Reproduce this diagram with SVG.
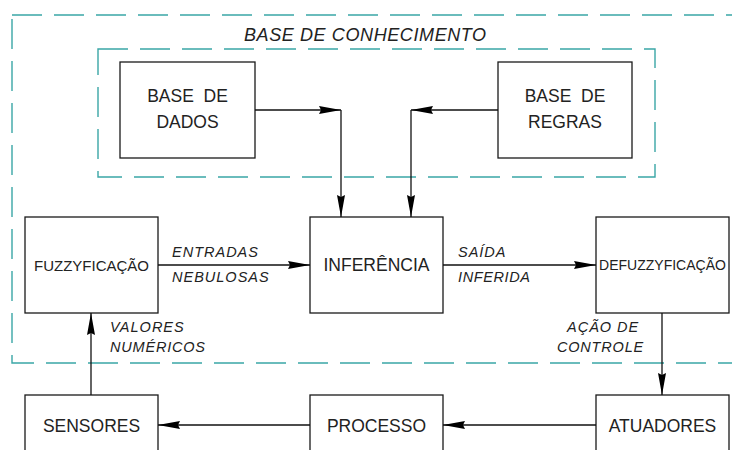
<svg xmlns="http://www.w3.org/2000/svg" width="732" height="450" viewBox="0 0 732 450">
<style>
.box{fill:#fff;stroke:#1a1a1a;stroke-width:1.3}
.dash{fill:none;stroke:#3aa6a6;stroke-width:1.4;stroke-dasharray:30 12}
.lbl{font-family:"Liberation Sans",Arial,sans-serif;font-size:17.5px;fill:#222;text-anchor:middle}
.it{font-family:"Liberation Sans",Arial,sans-serif;font-style:italic;font-size:14.5px;fill:#222;letter-spacing:1px}
.con{fill:none;stroke:#111;stroke-width:1.3;marker-end:url(#ah)}
</style>
<defs>
<marker id="ah" viewBox="0 0 22 9" refX="22" refY="4.5" markerWidth="22" markerHeight="9" markerUnits="userSpaceOnUse" orient="auto">
<path d="M0,0.5 L22,4.5 L0,8.5 L2,4.5 z" fill="#000"/>
</marker>
</defs>
<rect x="12" y="15" width="740" height="348" class="dash"/>
<rect x="98" y="49" width="557" height="128" class="dash"/>
<text x="244" y="41" font-family="Liberation Sans,Arial,sans-serif" font-style="italic" font-size="18" letter-spacing="0.6" fill="#222">BASE DE CONHECIMENTO</text>
<g id="base-dados">
<rect x="120" y="62" width="135" height="96" class="box"/>
<text x="187.5" y="102" class="lbl" style="white-space:pre">BASE  DE</text>
<text x="187.5" y="128" class="lbl">DADOS</text>
</g>
<g id="base-regras">
<rect x="498" y="62" width="134" height="96" class="box"/>
<text x="565" y="102" class="lbl" style="white-space:pre">BASE  DE</text>
<text x="565" y="128" class="lbl">REGRAS</text>
</g>
<g id="fuzzyficacao">
<rect x="25" y="217" width="133" height="96" class="box"/>
<text x="91.5" y="271" class="lbl" style="font-size:15px">FUZZYFICAÇÃO</text>
</g>
<g id="inferencia">
<rect x="310" y="217" width="133" height="96" class="box"/>
<text x="376.5" y="271" class="lbl">INFERÊNCIA</text>
</g>
<g id="defuzzyficacao">
<rect x="596" y="217" width="133" height="96" class="box"/>
<text x="662.5" y="270" class="lbl" style="font-size:14px">DEFUZZYFICAÇÃO</text>
</g>
<g id="sensores">
<rect x="25" y="395" width="133" height="96" class="box"/>
<text x="91.5" y="432" class="lbl">SENSORES</text>
</g>
<g id="processo">
<rect x="310" y="395" width="133" height="96" class="box"/>
<text x="376.5" y="432" class="lbl">PROCESSO</text>
</g>
<g id="atuadores">
<rect x="596" y="395" width="133" height="96" class="box"/>
<text x="662.5" y="432" class="lbl">ATUADORES</text>
</g>
<g id="connectors">
<path d="M255,110 H341" class="con"/>
<path d="M341,110 V217" class="con"/>
<path d="M498,110 H411" class="con"/>
<path d="M411,110 V217" class="con"/>
<path d="M158,265 H310" class="con"/>
<path d="M443,265 H596" class="con"/>
<path d="M662,313 V395" class="con"/>
<path d="M596,425 H443" class="con"/>
<path d="M310,425 H158" class="con"/>
<path d="M91,395 V313" class="con"/>
</g>
<g id="labels">
<text x="172" y="257" class="it">ENTRADAS</text>
<text x="172" y="282" class="it">NEBULOSAS</text>
<text x="458" y="257" class="it">SAÍDA</text>
<text x="458" y="282" class="it" style="letter-spacing:0.6px">INFERIDA</text>
<text x="110" y="332" class="it">VALORES</text>
<text x="110" y="352" class="it" style="letter-spacing:0.8px">NUMÉRICOS</text>
<text x="567" y="332" class="it">AÇÃO DE</text>
<text x="557" y="352" class="it" style="letter-spacing:0.8px">CONTROLE</text>
</g>
</svg>
